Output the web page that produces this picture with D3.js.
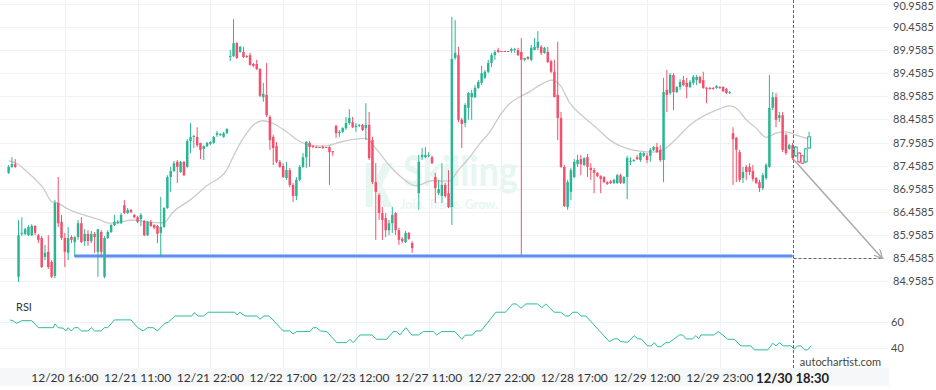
<!DOCTYPE html>
<html>
<head>
<meta charset="utf-8">
<script src="https://cdn.jsdelivr.net/npm/d3@7"></script>
<style>
  body { margin: 0; background: #fff; }
  svg { font-family: Lato, "Open Sans", sans-serif; }
</style>
</head>
<body>
<div id="chart"></div>
<script>
// candles, one per bar index (null = missing bar)
var opens = [
  87.30, 87.43, 87.49, 85.05, 85.98, 85.98, 85.95, 85.95, 86.15, 85.95,
  85.89, 85.48, 85.59, 85.37, 85.07, 86.65, 86.24, 85.89, 85.57, 85.91,
  85.80, 85.91, 86.21, 85.82, 85.98, 85.82, 85.98, 85.59, 86.02, 85.05,
  85.89, 86.02, 86.17, 86.21, 86.21, 86.60, 86.43, 86.50, 86.39, 86.34,
  86.30, 86.26, 85.95, 86.24, 86.17, 86.15, 86.00, 86.13, 86.54, 87.21,
  87.34, 87.54, 87.32, 87.54, 87.43, 87.99, 88.08, 88.08, 87.95, 87.82,
  87.88, 87.93, 87.95, 88.12, 88.12, 88.08, 88.16, 89.81, 89.83, 90.11,
  89.92, 89.92, 89.83, 89.85, 89.66, 89.66, 89.55, 88.94, 88.99, 88.51,
  88.08, 87.88, 87.54, 87.45, 87.19, 87.36, 87.04, 86.80, 87.15, 87.43,
  87.64, 87.95, 87.88, 87.86, 87.86, 87.86, 87.86, 87.86, 87.77, 88.32,
  88.16, 88.19, 88.27, 88.38, 88.40, 88.29, 88.32, 88.34, 88.27, 88.34,
  88.01, 87.10, 86.82, 86.43, 86.32, 86.06, 86.21, 86.43, 86.06, 85.87,
  85.80, 86.00, 85.78, null, 86.86, 87.64, 87.64, 87.67, 87.64, 87.21,
  86.86, 86.80, 87.04, 86.86, 86.56, 89.79, 89.85, 88.45, 88.38, 88.71,
  88.94, 88.94, 89.14, 89.25, 89.36, 89.49, 89.68, 89.85, 89.96, 89.94,
  89.94, 89.94, 89.94, 89.96, 89.96, 89.92, 89.75, 89.81, 89.75, 89.96,
  90.01, 90.03, 89.90, 89.92, 89.72, 89.49, 88.99, 88.49, 87.43, 86.56,
  86.89, 87.21, 87.49, 87.60, 87.47, 87.64, 87.41, 87.36, 87.30, 87.23,
  87.21, 87.10, 87.12, 87.08, 87.08, 87.25, 87.08, 87.21, 87.54, 87.56,
  87.64, 87.58, 87.67, 87.67, 87.67, 87.80, 87.86, 87.80, 87.58, 89.10,
  89.03, 89.42, 89.05, 89.16, 89.31, 89.25, 89.16, 89.25, 89.31, 89.38,
  89.31, 89.14, 89.14, 89.14, 89.14, 89.16, 89.16, 89.12, 89.03, 88.16,
  88.06, 87.75, 87.19, 87.43, 87.43, 87.34, 87.19, 87.10, 86.97, 87.19,
  87.43, 88.71, 88.94, 88.49, 88.55, 88.12, 87.82, 87.90, 87.67, 87.73,
  87.67, 87.54, 87.84
];
var highs = [
  87.47, 87.64, 87.60, 86.28, 86.34, 86.11, 86.17, 86.19, 86.17, 85.98,
  85.93, 85.74, 85.95, 85.41, 86.71, 87.21, 86.39, 86.00, 86.13, 85.95,
  85.93, 86.28, 86.34, 86.08, 86.06, 86.04, 86.02, 86.08, 86.06, 85.93,
  86.06, 86.19, 86.39, 86.28, 86.43, 86.71, 86.54, 86.52, 86.41, 86.37,
  86.43, 86.28, 86.26, 86.28, 86.19, 86.17, 86.78, 86.56, 87.25, 87.43,
  87.56, 87.58, 87.56, 87.56, 88.03, 88.38, 88.12, 88.29, 87.95, 87.90,
  87.97, 87.99, 88.10, 88.21, 88.16, 88.19, 88.27, 89.96, 90.63, 90.14,
  90.05, 90.03, 89.85, 89.90, 89.68, 89.75, 89.57, 89.25, 89.68, 88.55,
  88.12, 87.97, 87.58, 87.51, 87.54, 87.41, 87.08, 87.21, 87.47, 87.73,
  87.99, 87.99, 87.90, 87.88, 87.86, 87.90, 87.86, 87.88, 87.77, 88.34,
  88.23, 88.29, 88.51, 88.68, 88.51, 88.38, 88.36, 88.36, 88.81, 88.62,
  88.08, 87.51, 86.86, 86.56, 86.43, 86.28, 86.56, 86.45, 86.11, 85.91,
  86.04, 86.02, 85.82, null, 87.69, 87.84, 87.86, 87.75, 87.67, 87.30,
  87.15, 87.51, 87.08, 87.36, 90.68, 90.61, 90.03, 88.49, 88.81, 89.05,
  89.10, 89.20, 89.31, 89.62, 89.53, 89.75, 89.90, 89.96, 90.01, 89.94,
  89.94, 89.94, 90.01, 90.01, 90.01, 90.22, 89.79, 89.83, 90.07, 90.22,
  90.37, 90.07, 90.03, 90.03, 89.75, 89.75, 90.14, 88.62, 87.47, 87.15,
  87.41, 87.60, 87.69, 87.69, 87.64, 87.71, 87.51, 87.41, 87.32, 87.25,
  87.23, 87.12, 87.15, 87.17, 87.28, 87.28, 87.23, 87.67, 87.64, 87.60,
  87.69, 87.75, 87.75, 87.73, 87.84, 87.88, 87.95, 87.90, 89.36, 89.53,
  89.46, 89.46, 89.18, 89.33, 89.40, 89.36, 89.31, 89.42, 89.42, 89.40,
  89.49, 89.16, 89.16, 89.16, 89.20, 89.18, 89.18, 89.14, 89.07, 88.29,
  88.08, 87.80, 87.43, 87.47, 87.51, 87.47, 87.21, 87.15, 87.30, 87.51,
  89.42, 89.05, 89.03, 88.62, 88.62, 88.16, 87.93, 87.95, 87.88, 87.75,
  87.69, 87.84, 88.19
];
var lows = [
  87.28, 87.41, 87.41, 84.94, 85.93, 85.95, 85.93, 85.93, 85.95, 85.78,
  85.24, 85.41, 85.22, 85.02, 85.02, 86.13, 85.85, 85.26, 85.41, 85.78,
  85.48, 85.85, 85.78, 85.72, 85.72, 85.78, 85.57, 85.05, 85.50, 85.02,
  85.87, 86.00, 86.15, 86.19, 86.19, 86.41, 86.41, 86.43, 86.32, 86.21,
  86.15, 85.93, 85.93, 86.13, 86.08, 85.78, 85.50, 86.11, 86.52, 86.89,
  87.32, 87.08, 87.30, 87.23, 87.41, 87.73, 87.84, 87.86, 87.60, 87.58,
  87.86, 87.90, 87.93, 88.08, 88.10, 88.06, 88.14, 89.72, 89.81, 89.77,
  89.90, 89.79, 89.79, 89.62, 89.59, 89.53, 88.94, 88.84, 88.51, 87.80,
  87.47, 87.51, 87.41, 87.19, 87.15, 86.99, 86.67, 86.71, 87.12, 87.41,
  87.41, 87.43, 87.84, 87.84, 87.86, 87.82, 87.86, 87.04, 87.67, 88.06,
  88.08, 88.16, 88.23, 88.34, 88.27, 88.19, 88.29, 88.21, 88.01, 87.58,
  87.06, 85.85, 86.28, 85.85, 85.91, 85.95, 86.00, 85.95, 85.74, 85.78,
  85.78, 85.85, 85.57, null, 86.50, 87.58, 87.62, 87.64, 87.49, 86.65,
  86.82, 86.65, 86.76, 86.54, 86.17, 89.75, 88.40, 87.84, 88.29, 88.45,
  88.45, 88.92, 89.12, 89.20, 89.33, 89.46, 89.59, 89.75, 89.90, 89.92,
  89.92, 89.92, 89.90, 89.90, 89.83, 85.48, 89.72, 89.75, 89.72, 89.96,
  89.96, 89.85, 89.88, 89.68, 89.46, 88.94, 88.01, 87.41, 86.56, 86.50,
  86.71, 87.19, 87.43, 87.25, 87.45, 87.21, 87.15, 86.86, 87.21, 86.86,
  87.08, 87.04, 87.06, 87.06, 87.06, 87.06, 87.06, 86.73, 87.47, 87.54,
  87.58, 87.54, 87.64, 87.51, 87.54, 87.77, 87.73, 87.54, 87.10, 88.62,
  88.99, 88.66, 89.03, 89.10, 89.18, 88.92, 89.14, 89.20, 89.20, 89.23,
  89.12, 88.81, 89.10, 89.10, 89.12, 89.12, 89.05, 89.01, 89.01, 87.04,
  87.10, 87.10, 87.08, 87.15, 87.25, 87.12, 87.06, 86.89, 86.93, 87.15,
  87.41, 88.66, 88.29, 88.40, 87.75, 87.69, 87.80, 87.58, 87.64, 87.51,
  87.49, 87.51, 87.82
];
var closes = [
  87.43, 87.49, 87.43, 85.95, 86.00, 86.08, 86.13, 86.15, 86.00, 85.85,
  85.26, 85.57, 85.26, 85.05, 86.65, 86.21, 85.89, 85.59, 85.89, 85.85,
  85.91, 86.21, 85.80, 85.98, 85.82, 85.98, 85.91, 86.08, 85.59, 85.89,
  86.02, 86.17, 86.24, 86.24, 86.39, 86.43, 86.50, 86.45, 86.34, 86.24,
  86.39, 85.95, 86.24, 86.15, 86.11, 85.98, 86.13, 86.54, 87.21, 87.34,
  87.51, 87.43, 87.54, 87.25, 87.99, 88.08, 88.10, 87.90, 87.80, 87.88,
  87.95, 87.97, 88.08, 88.16, 88.14, 88.16, 88.25, 89.83, 90.11, 89.79,
  90.03, 89.81, 89.81, 89.64, 89.62, 89.55, 88.97, 89.01, 88.55, 88.01,
  87.84, 87.54, 87.43, 87.21, 87.36, 87.04, 86.80, 87.15, 87.43, 87.64,
  87.97, 87.86, 87.86, 87.86, 87.86, 87.86, 87.86, 87.75, 87.75, 88.16,
  88.19, 88.27, 88.38, 88.49, 88.29, 88.32, 88.34, 88.23, 88.34, 87.62,
  87.10, 86.89, 86.43, 86.28, 86.06, 86.21, 86.39, 86.06, 85.85, 85.82,
  86.00, 85.87, 85.67, null, 87.54, 87.69, 87.69, 87.69, 87.51, 86.97,
  86.95, 87.04, 86.80, 86.56, 89.77, 89.90, 88.45, 88.36, 88.77, 89.03,
  89.03, 89.14, 89.27, 89.46, 89.49, 89.68, 89.85, 89.92, 89.92, 89.92,
  89.92, 89.92, 89.98, 89.98, 89.85, 89.75, 89.79, 89.77, 90.01, 90.03,
  90.14, 89.90, 90.01, 89.70, 89.49, 88.94, 88.49, 87.43, 86.58, 87.10,
  87.36, 87.54, 87.58, 87.49, 87.62, 87.43, 87.36, 87.30, 87.23, 87.17,
  87.10, 87.06, 87.08, 87.15, 87.25, 87.08, 87.21, 87.62, 87.56, 87.58,
  87.60, 87.73, 87.73, 87.58, 87.80, 87.86, 87.75, 87.58, 89.05, 88.99,
  89.42, 89.05, 89.16, 89.27, 89.20, 89.16, 89.27, 89.38, 89.38, 89.25,
  89.14, 89.12, 89.12, 89.12, 89.18, 89.14, 89.07, 89.03, 89.05, 88.03,
  87.80, 87.15, 87.32, 87.32, 87.32, 87.17, 87.08, 86.97, 87.25, 87.47,
  88.71, 88.94, 88.45, 88.55, 87.80, 87.73, 87.90, 87.62, 87.86, 87.54,
  87.51, 87.82, 88.08
];

// moving average, read at bar positions
var maIndex = [0, 2.4, 5.5, 7.5, 10.5, 13, 15, 17.6, 20.6, 23.6,
  27.6, 30.7, 33.7, 37.7, 41.7, 46.8, 49.8, 54.8, 59.9, 65.9,
  67.9, 70, 72, 74, 77, 80, 84, 88, 91, 95,
  101, 105, 108, 111, 115, 119, 123, 128, 133, 136,
  139.5, 142.5, 145.5, 148.6, 151.6, 154.6, 157.6, 160.6, 164.2, 166.7,
  169.7, 173.7, 177.8, 181.8, 186.8, 190.9, 194.9, 197.9, 202, 206,
  210, 214, 218, 220, 223, 226, 229, 232, 235, 238, 242];
var maValues = [87.56, 87.51, 87.33, 87.20, 86.97, 86.68, 86.64, 86.53, 86.44, 86.37,
  86.28, 86.21, 86.24, 86.28, 86.24, 86.22, 86.46, 86.71, 87.02, 87.36,
  87.65, 87.94, 88.16, 88.34, 88.43, 88.37, 88.19, 87.98, 87.90, 87.88,
  87.98, 88.03, 88.05, 87.83, 87.47, 87.19, 87.02, 87.13, 87.12, 87.36,
  87.65, 87.94, 88.19, 88.55, 88.81, 88.95, 89.06, 89.20, 89.31, 89.20,
  88.81, 88.52, 88.27, 88.01, 87.83, 87.77, 87.75, 87.80, 88.05, 88.34,
  88.53, 88.66, 88.75, 88.70, 88.45, 88.27, 88.07, 88.16, 88.19, 88.12, 88.03];

// RSI line vertices
var rsiIndex = [0.4, 1.4, 2.4, 4, 7, 9, 13.5, 14, 15, 16.5, 17.3, 18, 18.9, 20, 21, 22, 24, 25, 26, 28,
  29, 30, 32, 37, 39, 40.7, 42, 43.7, 45, 47.3, 48.3, 50.3, 55.4, 56.1, 57.3, 58.9, 60.4, 68.4, 69.1, 69.9,
  71.5, 75, 76, 77.2, 78.8, 83, 85, 86, 87.1, 91.1, 92.1, 93.1, 94.3, 96.2, 99.2, 102.2, 103.2, 104.2, 106.2, 109.8,
  111.3, 114.3, 116.3, 117.3, 118.3, 120.1, 121.9, 123.9, 125.4, 128.4, 129.4, 130.9, 134.9, 137, 138, 140.3, 141.3, 142.8, 147.3, 150.2,
  152.4, 153.4, 154.9, 156.4, 159.9, 161.2, 162.4, 164.9, 166.9, 168.4, 169.5, 170.5, 172, 173, 174.5, 181.6, 183.1, 184.1, 185.1, 187.2,
  189.1, 190.2, 191.2, 193.2, 194.2, 195.2, 196.2, 197.2, 198.7, 199.7, 201.2, 202.8, 203.8, 204.8, 206.8, 207.8, 208.6, 209.3, 213.3, 214.5,
  215.9, 217.4, 219.4, 221.4, 224.4, 225.4, 229.5, 231, 232, 233, 234.2, 236.5, 237.5, 238.5, 239.5, 240.7, 241.6, 242.6];
var rsiValues = [61.8, 61.0, 59.2, 61.2, 61.2, 55.8, 55.8, 58.7, 55.8, 55.4, 53.3, 55.8, 53.3, 55.8, 55.8, 53.3, 53.3, 55.8, 53.3, 53.3,
  55.8, 55.8, 61.8, 61.8, 55.8, 53.3, 55.8, 55.8, 53.3, 59.2, 60.0, 64.8, 64.8, 67.4, 64.8, 64.8, 67.7, 67.7, 65.6, 67.7,
  64.8, 64.8, 62.3, 64.8, 64.8, 53.3, 53.3, 51.0, 52.8, 52.8, 55.8, 55.8, 53.3, 52.8, 44.3, 44.3, 46.9, 44.3, 50.2, 50.2,
  46.9, 46.9, 52.8, 52.8, 50.2, 55.8, 50.2, 50.2, 52.8, 52.8, 50.2, 52.8, 52.8, 46.9, 50.0, 50.2, 53.3, 53.3, 67.7, 67.7,
  74.1, 74.1, 70.8, 74.1, 74.1, 71.2, 74.1, 67.7, 67.7, 64.8, 64.8, 67.7, 67.7, 64.8, 64.8, 45.1, 47.2, 47.2, 45.1, 44.6,
  49.7, 47.2, 47.2, 41.8, 41.8, 44.3, 41.2, 41.2, 44.3, 44.3, 47.2, 50.2, 50.2, 47.2, 47.2, 49.7, 47.2, 50.2, 50.2, 52.8,
  50.2, 46.9, 46.9, 41.8, 41.8, 38.7, 38.7, 43.8, 41.8, 44.3, 41.8, 41.8, 39.2, 41.8, 41.8, 38.7, 38.7, 41.8];

var timeTickIndex = [17, 39, 61, 83, 105, 127, 149, 171, 193, 215];
var timeTickLabels = ["12/20 16:00", "12/21 11:00", "12/21 22:00", "12/22 17:00", "12/23 12:00",
  "12/27 11:00", "12/27 22:00", "12/28 17:00", "12/29 12:00", "12/29 23:00"];
var priceTicks = [84.9585, 85.4585, 85.9585, 86.4585, 86.9585, 87.4585, 87.9585,
  88.4585, 88.9585, 89.4585, 89.9585, 90.4585, 90.9585];
var rsiTicks = [40, 60];

var supportLevel = 85.50, supportFrom = 20;
var eventIndex = 237, eventLabel = "12/30 18:30";
var targetLevel = 85.4585, targetIndex = 264;

var green = "#2bb594", red = "#f4506b";
var W = 936, H = 390;

var svg = d3.select("#chart").append("svg")
  .attr("width", W).attr("height", H);

var x = d3.scaleLinear().domain([0, 242]).range([8.6, 809.1]);
var y = d3.scaleLinear().domain([84.9585, 90.9585]).range([281, 4]);
var yr = d3.scaleLinear().domain([24, 82.5]).range([369, 293]);

// time label band
svg.append("rect").attr("x", 0).attr("y", 368).attr("width", 889).attr("height", 18)
  .attr("fill", "#f6f7f8");

// grid
svg.append("g").selectAll("line").data(priceTicks).enter().append("line")
  .attr("x1", 0).attr("x2", 888)
  .attr("y1", d => Math.round(y(d)) + 0.5).attr("y2", d => Math.round(y(d)) + 0.5)
  .attr("stroke", "#eef2f6");
svg.append("g").selectAll("line").data(rsiTicks).enter().append("line")
  .attr("x1", 0).attr("x2", 888)
  .attr("y1", d => Math.round(yr(d)) + 0.5).attr("y2", d => Math.round(yr(d)) + 0.5)
  .attr("stroke", "#eef2f6");
svg.append("g").selectAll("line").data(timeTickIndex).enter().append("line")
  .attr("x1", d => Math.round(x(d)) + 0.5).attr("x2", d => Math.round(x(d)) + 0.5)
  .attr("y1", 0).attr("y2", 368)
  .attr("stroke", "#eef2f6");

// watermark
var wm = svg.append("g").attr("fill", "#e6f7f1");
wm.append("path").attr("d", "M366,163 L373,163 L373,207 L366,207 Z");
wm.append("path").attr("d", "M383,163 L393,163 L382,185 L393,207 L383,207 L373,185 Z");
wm.append("text").attr("x", 403).attr("y", 186).attr("font-size", 42).attr("font-weight", 700)
  .attr("textLength", 115).attr("lengthAdjust", "spacingAndGlyphs").text("Skilling");
wm.append("text").attr("x", 400).attr("y", 209).attr("font-size", 12.5).attr("font-weight", 700)
  .attr("textLength", 98).attr("lengthAdjust", "spacingAndGlyphs").text("Join. Trade. Grow.");

// moving average
var maPts = maIndex.map((d, i) => [d, maValues[i]]);
svg.append("path")
  .attr("d", d3.line().x(d => x(d[0])).y(d => y(d[1])).curve(d3.curveMonotoneX)(maPts))
  .attr("fill", "none").attr("stroke", "#cbcbcb").attr("stroke-width", 1.3);

// support line
svg.append("line")
  .attr("x1", x(supportFrom)).attr("x2", x(eventIndex))
  .attr("y1", y(supportLevel)).attr("y2", y(supportLevel))
  .attr("stroke", "#a9c5fa").attr("stroke-width", 4);
svg.append("line")
  .attr("x1", x(supportFrom)).attr("x2", x(eventIndex))
  .attr("y1", y(supportLevel)).attr("y2", y(supportLevel))
  .attr("stroke", "#5d8ff2").attr("stroke-width", 1.8);

// candles
var bars = d3.range(opens.length).filter(i => opens[i] !== null).map(i => ({
  i: i, o: opens[i], h: highs[i], l: lows[i], c: closes[i]
}));
var cg = svg.append("g");
cg.selectAll("line").data(bars).enter().append("line")
  .attr("x1", d => x(d.i)).attr("x2", d => x(d.i))
  .attr("y1", d => y(d.h)).attr("y2", d => y(d.l))
  .attr("stroke", d => d.c > d.o ? green : red).attr("stroke-width", 1);
cg.selectAll("rect").data(bars).enter().append("rect")
  .attr("x", d => d.i > eventIndex ? x(d.i) - 1.4 : x(d.i) - 1.25)
  .attr("width", d => d.i > eventIndex ? 2.8 : 2.5)
  .attr("y", d => y(Math.max(d.o, d.c)))
  .attr("height", d => Math.max(1, Math.abs(y(d.o) - y(d.c))))
  .attr("fill", d => d.i > eventIndex ? "#fff" : (d.c > d.o ? green : red))
  .attr("stroke", d => d.i > eventIndex ? (d.c > d.o ? green : red) : "none")
  .attr("stroke-width", 1);

// event marker lines
var ex = Math.round(x(eventIndex)) + 0.5;
svg.append("line").attr("x1", ex).attr("x2", ex).attr("y1", 0).attr("y2", 368)
  .attr("stroke", "#666").attr("stroke-dasharray", "3,2");
svg.append("line").attr("x1", ex).attr("x2", x(targetIndex) + 2)
  .attr("y1", Math.round(y(targetLevel)) + 0.5).attr("y2", Math.round(y(targetLevel)) + 0.5)
  .attr("stroke", "#666").attr("stroke-dasharray", "3,2");

// forecast arrow
svg.append("defs").append("marker")
  .attr("id", "arrow").attr("viewBox", "0 0 10 10").attr("refX", 9).attr("refY", 5)
  .attr("markerWidth", 6).attr("markerHeight", 6).attr("orient", "auto")
  .append("path").attr("d", "M0,0 L10,5 L0,10").attr("fill", "none")
  .attr("stroke", "#aaa").attr("stroke-width", 1.5);
svg.append("line")
  .attr("x1", x(eventIndex)).attr("y1", y(closes[eventIndex]))
  .attr("x2", x(targetIndex)).attr("y2", y(targetLevel))
  .attr("stroke", "#aaa").attr("stroke-width", 1.5).attr("marker-end", "url(#arrow)");

// RSI
var rsiPts = rsiIndex.map((d, i) => [d, rsiValues[i]]);
svg.append("path")
  .attr("d", d3.line().x(d => x(d[0])).y(d => yr(d[1]))(rsiPts))
  .attr("fill", "none").attr("stroke", "#2bbd98").attr("stroke-width", 1);
svg.append("text").attr("x", 16).attr("y", 311).attr("font-size", 11)
  .attr("fill", "#333").text("RSI");

// axes
var yAxis = d3.axisRight(y).tickValues(priceTicks).tickFormat(d3.format(".4f"))
  .tickSize(0).tickPadding(5);
var ga = svg.append("g").attr("transform", "translate(888,0)").call(yAxis);
var rAxis = d3.axisRight(yr).tickValues(rsiTicks).tickSize(0).tickPadding(3);
var gr = svg.append("g").attr("transform", "translate(888,0)").call(rAxis);
[ga, gr].forEach(g => {
  g.select(".domain").remove();
  g.selectAll("text").attr("font-family", "Lato, sans-serif").attr("font-size", 11).attr("fill", "#4a4a4a");
});
// keep the top price label inside the frame
ga.selectAll(".tick").filter(d => d === priceTicks[priceTicks.length - 1])
  .select("text").attr("y", 2);

svg.append("g").selectAll("text").data(timeTickIndex).enter().append("text")
  .attr("x", d => x(d)).attr("y", 382).attr("text-anchor", "middle")
  .attr("font-size", 12).attr("fill", "#333")
  .text((d, i) => timeTickLabels[i]);
svg.append("text").attr("x", x(eventIndex)).attr("y", 383).attr("text-anchor", "middle")
  .attr("font-size", 13).attr("font-weight", 700).attr("fill", "#222").text(eventLabel);

svg.append("text").attr("x", 881).attr("y", 366).attr("text-anchor", "end")
  .attr("font-size", 11).attr("fill", "#444").text("autochartist.com");
</script>
</body>
</html>
